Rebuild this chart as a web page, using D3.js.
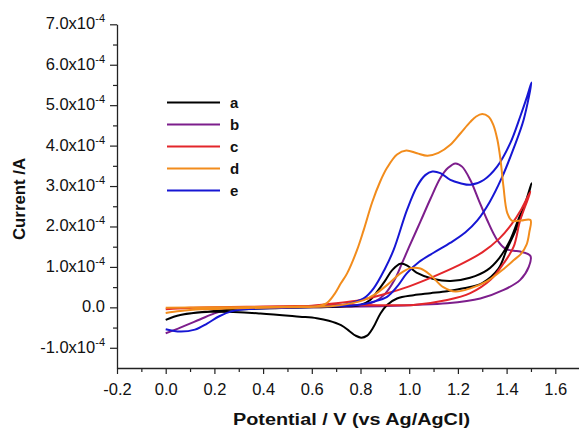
<!DOCTYPE html>
<html><head><meta charset="utf-8">
<script src="https://cdn.jsdelivr.net/npm/d3@7/dist/d3.min.js"></script>
<style>
body{margin:0;background:#fff}
svg{display:block}
text{font-family:"Liberation Sans",Arial,Helvetica,sans-serif;fill:#111}
</style>
</head><body>
<svg id="chart" width="579" height="430"></svg>
<script>
// ---- data (potential in V vs Ag/AgCl, current in units of 1e-4 A) ----
const seriesNames = ["a", "b", "c", "d", "e"];
const seriesColors = ["#000000", "#7d1e8c", "#e3262b", "#f28c1c", "#1616d4"];

const potentialA = [0, 0.06, 0.18, 0.3, 0.45, 0.6, 0.72, 0.8, 0.84, 0.87, 0.9, 0.93, 0.964, 0.995, 1.03, 1.1, 1.17, 1.25, 1.32, 1.37, 1.415, 1.45, 1.48, 1.502,
                    1.47, 1.44, 1.40, 1.366, 1.30, 1.224, 1.156, 1.087, 1.018, 0.95, 0.909, 0.882, 0.854, 0.827, 0.803, 0.78, 0.755, 0.72, 0.67, 0.62, 0.55, 0.389, 0.184, 0.06, 0];
const currentA   = [-0.31, -0.19, -0.1, -0.05, -0.02, 0.0, 0.02, 0.06, 0.18, 0.4, 0.65, 0.92, 1.08, 1.02, 0.86, 0.7, 0.65, 0.73, 0.92, 1.22, 1.67, 2.2, 2.6, 3.07,
                    2.45, 1.95, 1.42, 0.95, 0.6, 0.47, 0.40, 0.35, 0.30, 0.22, 0.06, -0.15, -0.48, -0.70, -0.75, -0.7, -0.59, -0.44, -0.33, -0.27, -0.23, -0.15, -0.11, -0.19, -0.31];

const potentialB = [0, 0.06, 0.14, 0.2, 0.25, 0.3, 0.45, 0.6, 0.75, 0.82, 0.858, 0.899, 0.94, 0.971, 1.0, 1.046, 1.087, 1.128, 1.16, 1.19, 1.217, 1.251, 1.285, 1.32, 1.361, 1.395, 1.43, 1.456, 1.498,
                    1.491, 1.456, 1.388, 1.292, 1.156, 1.018, 0.882, 0.7, 0.5, 0.3, 0.25, 0.2, 0.14, 0.06, 0];
const currentB   = [-0.64, -0.5, -0.3, -0.15, -0.06, -0.02, 0.0, 0.01, 0.03, 0.07, 0.14, 0.32, 0.68, 1.1, 1.5, 2.12, 2.68, 3.2, 3.45, 3.56, 3.48, 3.15, 2.66, 2.16, 1.67, 1.45, 1.4, 1.38, 1.27,
                    1.0, 0.68, 0.43, 0.22, 0.10, 0.06, 0.03, 0.01, 0.0, -0.02, -0.06, -0.15, -0.3, -0.5, -0.64];

const potentialC = [0, 0.1, 0.3, 0.5, 0.6, 0.7, 0.8, 0.9, 1.0, 1.1, 1.2, 1.3, 1.37, 1.42, 1.46, 1.498,
                    1.456, 1.429, 1.388, 1.334, 1.251, 1.156, 1.018, 0.813, 0.6, 0.4, 0.2, 0.05, 0];
const currentC   = [-0.05, -0.01, 0.0, 0.02, 0.04, 0.1, 0.18, 0.33, 0.52, 0.76, 1.03, 1.36, 1.7, 2.05, 2.42, 2.86,
                    2.16, 1.5, 1.09, 0.68, 0.35, 0.18, 0.06, 0.06, 0.04, 0.02, 0.0, -0.03, -0.05];

const potentialD = [0, 0.2, 0.4, 0.55, 0.62, 0.66, 0.69, 0.72, 0.745, 0.786, 0.813, 0.848, 0.88, 0.909, 0.95, 0.988, 1.032, 1.075, 1.12, 1.169, 1.21, 1.25, 1.275, 1.3, 1.325, 1.345, 1.362, 1.375, 1.387, 1.403, 1.423, 1.46, 1.498,
                    1.493, 1.482, 1.46, 1.43, 1.388, 1.32, 1.251, 1.19, 1.14, 1.087, 1.046, 1.005, 0.964, 0.909, 0.854, 0.813, 0.745, 0.676, 0.5, 0.3, 0.15, 0.06, 0];
const currentD   = [-0.01, 0.0, 0.01, 0.02, 0.03, 0.1, 0.3, 0.6, 0.84, 1.42, 1.91, 2.6, 3.1, 3.45, 3.78, 3.88, 3.81, 3.75, 3.82, 4.02, 4.3, 4.58, 4.72, 4.78, 4.72, 4.52, 4.15, 3.65, 2.99, 2.33, 2.14, 2.15, 2.16,
                    1.85, 1.55, 1.33, 1.17, 0.95, 0.65, 0.47, 0.39, 0.5, 0.8, 0.96, 0.97, 0.84, 0.55, 0.30, 0.18, 0.08, 0.03, 0.0, -0.02, -0.05, -0.09, -0.14];

const potentialE = [0, 0.06, 0.12, 0.17, 0.22, 0.27, 0.35, 0.5, 0.65, 0.72, 0.758, 0.813, 0.854, 0.9, 0.936, 0.991, 1.032, 1.066, 1.095, 1.128, 1.169, 1.21, 1.251, 1.306, 1.361, 1.415, 1.456, 1.484, 1.502,
                    1.47, 1.43, 1.38, 1.33, 1.28, 1.23, 1.17, 1.1, 1.04, 0.99, 0.95, 0.909, 0.854, 0.787, 0.65, 0.5, 0.35, 0.27, 0.22, 0.17, 0.12, 0.06, 0];
const currentE   = [-0.54, -0.6, -0.55, -0.4, -0.22, -0.1, -0.04, -0.01, 0.02, 0.05, 0.10, 0.22, 0.47, 0.95, 1.42, 2.41, 2.99, 3.27, 3.36, 3.32, 3.15, 3.07, 3.03, 3.15, 3.48, 4.06, 4.72, 5.21, 5.56,
                    4.64, 3.95, 3.2, 2.6, 2.15, 1.85, 1.6, 1.35, 1.12, 0.84, 0.51, 0.26, 0.14, 0.06, 0.02, 0.0, -0.03, -0.1, -0.22, -0.4, -0.55, -0.6, -0.54];

const xMajorTicks = [-0.2, 0.0, 0.2, 0.4, 0.6, 0.8, 1.0, 1.2, 1.4, 1.6];
const xMinorTicks = [-0.1, 0.1, 0.3, 0.5, 0.7, 0.9, 1.1, 1.3, 1.5];
const yMajorTicks = [-1, 0, 1, 2, 3, 4, 5, 6, 7];
const yMinorTicks = [-0.5, 0.5, 1.5, 2.5, 3.5, 4.5, 5.5, 6.5];
const xTitle = "Potential / V (vs Ag/AgCl)";
const yTitle = "Current /A";

// ---- build ----
const seriesData = [
  [potentialA, currentA], [potentialB, currentB], [potentialC, currentC],
  [potentialD, currentD], [potentialE, currentE]
].map(([v, c], i) => ({ name: seriesNames[i], color: seriesColors[i], pts: v.map((x, j) => [x, c[j]]) }));

const svg = d3.select("#chart");
const x = d3.scaleLinear().domain([-0.2, 1.7]).range([117, 579.65]);
const y = d3.scaleLinear().domain([-1.5, 7]).range([368, 24.3]);

// axes
const xAxis = svg.append("g").attr("transform", `translate(0,${y(-1.5)})`);
xAxis.call(d3.axisBottom(x).tickValues(xMinorTicks).tickSize(4).tickFormat(""));
xAxis.call(g => g.select(".domain").remove());
const xAxisMajor = svg.append("g").attr("transform", `translate(0,${y(-1.5)})`)
  .call(d3.axisBottom(x).tickValues(xMajorTicks).tickSize(6).tickSizeOuter(0).tickFormat(d3.format(".1f")));
xAxisMajor.selectAll("text").attr("y", 15).attr("dy", "0.71em")
  .style("font-size", "16.5px").style("fill", "#111")
  .text(d => d3.format(".1f")(d).replace("−", "-"));

const yAxis = svg.append("g").attr("transform", `translate(${x(-0.2)},0)`);
yAxis.call(d3.axisLeft(y).tickValues(yMinorTicks).tickSize(4).tickFormat(""));
yAxis.call(g => g.select(".domain").remove());
const yAxisMajor = svg.append("g").attr("transform", `translate(${x(-0.2)},0)`)
  .call(d3.axisLeft(y).tickValues(yMajorTicks).tickSize(7).tickSizeOuter(0).tickFormat(""));
yAxisMajor.selectAll(".tick").each(function (d) {
  const t = d3.select(this).append("text")
    .attr("x", -12).attr("dy", "0.27em")
    .attr("text-anchor", "end")
    .style("font-size", "16.5px").style("fill", "#111");
  if (d === 0) {
    t.text("0.0");
  } else {
    t.append("tspan").text(d.toFixed(1) + "x10");
    t.append("tspan").attr("dy", -7).style("font-size", "11px").text("-4");
  }
});
svg.selectAll(".domain").attr("stroke", "#222").attr("stroke-width", 1.3);
svg.selectAll(".tick line").attr("stroke", "#222").attr("stroke-width", 1.2);

// curves
const line = d3.line().x(d => x(d[0])).y(d => y(d[1])).curve(d3.curveCatmullRom.alpha(0.5));
const drawOrder = [1, 0, 2, 4, 3];
svg.append("g").selectAll("path").data(drawOrder.map(i => seriesData[i])).join("path")
  .attr("d", d => line(d.pts))
  .attr("fill", "none")
  .attr("stroke", d => d.color)
  .attr("stroke-width", 2)
  .attr("stroke-linejoin", "round");

// legend
const legend = svg.append("g");
seriesData.forEach((s, i) => {
  const ly = 102.5 + i * 22;
  legend.append("line").attr("x1", 167).attr("x2", 220).attr("y1", ly).attr("y2", ly)
    .attr("stroke", s.color).attr("stroke-width", 2);
  legend.append("text").attr("x", 230).attr("y", ly + 5)
    .style("font-size", "15px").style("font-weight", "bold").text(s.name);
});

// titles
svg.append("text").attr("x", 351.5).attr("y", 425).attr("text-anchor", "middle")
  .attr("textLength", 237).attr("lengthAdjust", "spacingAndGlyphs")
  .style("font-size", "16px").style("font-weight", "bold").text(xTitle);
svg.append("text").attr("transform", "translate(25,199) rotate(-90)").attr("text-anchor", "middle")
  .attr("textLength", 82).attr("lengthAdjust", "spacingAndGlyphs")
  .style("font-size", "16px").style("font-weight", "bold").text(yTitle);
</script>
</body></html>
